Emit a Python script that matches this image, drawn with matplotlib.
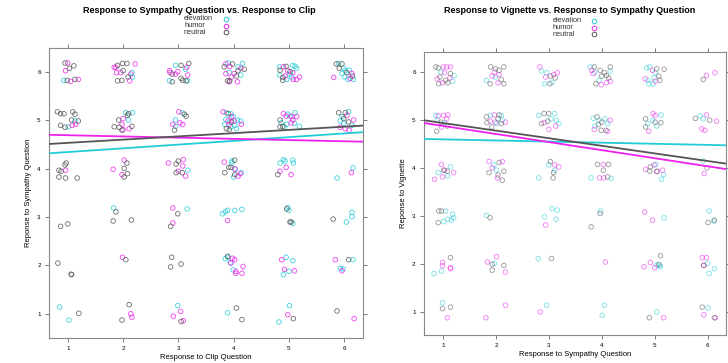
import numpy as np
import matplotlib
matplotlib.use("Agg")
import matplotlib.pyplot as plt

plt.rcParams['font.family'] = ['Liberation Sans', 'DejaVu Sans']

groups = ['elevation', 'humor', 'neutral']
colors = {'elevation': '#22CCD6', 'humor': '#EE22EE', 'neutral': '#555555'}

# panel 1: x = response to clip, y = response to sympathy question (jittered)
clip_elevation = [
    (0.93, 5.83), (2.16, 5.99), (2.17, 5.90), (2.95, 6.14), (3.13, 6.06), (2.84, 5.82), (3.17, 5.82),
    (3.90, 6.19), (4.08, 6.11), (4.16, 6.18), (3.92, 5.99), (4.13, 5.94), (4.83, 6.11), (5.07, 6.14),
    (5.11, 6.12), (5.14, 6.08), (4.83, 5.94), (5.05, 5.90), (4.96, 5.85), (5.02, 5.96), (5.90, 6.18),
    (5.99, 6.08), (6.02, 6.03), (6.09, 6.04), (6.01, 5.90), (6.07, 5.85), (6.17, 5.85), (5.96, 5.97),
    (1.13, 4.99), (1.01, 4.87), (2.05, 5.16), (2.17, 5.16), (2.10, 5.01), (3.07, 5.16), (2.95, 5.01),
    (2.95, 4.88), (3.87, 5.16), (3.95, 5.14), (3.86, 5.02), (3.99, 5.08), (4.07, 5.01), (4.13, 4.99),
    (3.84, 4.92), (4.02, 4.90), (4.05, 4.83), (3.95, 4.87), (4.98, 5.13), (5.11, 5.16), (5.02, 5.09),
    (4.86, 4.95), (4.96, 4.92), (5.10, 4.94), (4.92, 4.86), (5.19, 4.88), (6.08, 5.18), (5.96, 5.08),
    (5.93, 4.99), (5.99, 4.94), (6.14, 4.90),
    (3.17, 3.97), (3.97, 4.16), (4.03, 3.99), (4.00, 3.83), (4.14, 3.92), (3.97, 4.12), (4.84, 4.12),
    (4.90, 4.19), (4.93, 4.16), (5.07, 4.18), (5.08, 4.12), (6.16, 4.02), (5.87, 3.81),
    (1.83, 3.19), (3.16, 3.17), (3.80, 3.07), (3.85, 3.11), (3.89, 3.14), (4.02, 3.14), (4.15, 3.16),
    (4.98, 3.20), (5.00, 3.14), (5.07, 2.87), (6.04, 2.90), (6.14, 3.01), (6.14, 3.10),
    (3.85, 2.14), (3.90, 2.17), (3.94, 2.06), (3.99, 1.91), (5.07, 2.10), (4.95, 2.17), (5.00, 1.88),
    (4.90, 1.81), (5.93, 1.94), (5.98, 1.93), (6.16, 2.12),
    (0.85, 1.14), (1.02, 0.87), (2.99, 1.17), (3.89, 1.02), (5.01, 1.17), (4.82, 0.83),
]
clip_humor = [
    (1.00, 6.19), (0.96, 6.03), (1.05, 5.81), (1.19, 5.85), (1.84, 6.10), (1.87, 6.10), (2.22, 6.17),
    (1.88, 5.99), (1.96, 5.99), (2.14, 5.96), (2.12, 5.82), (3.15, 6.10), (2.99, 6.01), (2.85, 5.99),
    (2.95, 5.96), (3.17, 5.94), (2.84, 6.03), (3.86, 6.17), (3.93, 6.12), (4.13, 6.08), (4.01, 5.97),
    (3.86, 5.97), (3.96, 5.90), (3.92, 5.80), (4.07, 5.80), (4.90, 6.11), (4.98, 6.03), (5.07, 5.99),
    (4.93, 5.92), (5.08, 5.85), (5.14, 5.85), (5.19, 5.90), (6.14, 5.97), (6.11, 5.87), (5.81, 5.89),
    (1.14, 4.92), (1.08, 4.90), (2.00, 5.04), (1.98, 4.92), (2.00, 4.81), (2.11, 4.83), (3.01, 5.18),
    (3.03, 4.95), (3.08, 4.92), (2.90, 4.92), (3.81, 5.18), (3.96, 5.08), (3.90, 4.99), (4.01, 4.99),
    (3.92, 4.92), (4.14, 4.92), (4.90, 5.14), (4.95, 5.09), (5.05, 5.08), (5.14, 5.08), (5.04, 4.95),
    (5.07, 5.01), (6.05, 5.11), (6.17, 5.01), (5.93, 4.86), (6.02, 4.83), (6.09, 4.80),
    (0.96, 3.97), (1.82, 3.99), (2.02, 4.18), (1.98, 3.88), (2.82, 4.12), (3.09, 4.19), (3.00, 3.95),
    (3.08, 4.06), (3.13, 3.85), (3.83, 4.14), (4.02, 4.00), (4.08, 3.85), (4.12, 3.90), (4.84, 3.95),
    (4.95, 4.03), (5.04, 3.88), (6.13, 3.92),
    (2.90, 3.19), (2.90, 2.88), (3.89, 2.93),
    (1.99, 2.17), (3.98, 2.15), (4.02, 2.12), (3.95, 2.05), (4.04, 1.88), (4.04, 1.84), (4.15, 1.84),
    (4.17, 1.98), (4.87, 2.12), (4.92, 1.92), (5.10, 1.89), (5.84, 2.12), (5.96, 1.89),
    (2.14, 1.00), (2.16, 0.93), (3.04, 1.05), (2.91, 0.95), (3.09, 0.86), (4.98, 0.98), (6.18, 0.90),
]
clip_neutral = [
    (0.95, 6.19), (1.03, 6.08), (1.11, 6.13), (0.99, 5.83), (1.13, 5.85), (1.90, 6.14), (1.99, 6.18),
    (2.07, 6.18), (2.00, 6.03), (2.09, 5.90), (1.90, 5.82), (1.98, 5.83), (3.05, 6.14), (3.19, 6.18),
    (2.89, 5.96), (3.05, 5.87), (3.08, 5.83), (2.89, 5.80), (3.14, 5.82), (3.83, 6.11), (3.98, 6.17),
    (4.19, 6.06), (4.08, 6.03), (4.05, 5.92), (3.89, 5.82), (3.93, 5.82), (4.95, 6.12), (4.84, 6.04),
    (5.02, 6.01), (4.89, 5.89), (4.89, 5.83), (5.86, 6.17), (5.96, 6.17), (5.91, 6.08), (6.05, 5.99),
    (6.15, 5.92),
    (0.81, 5.18), (0.87, 5.14), (0.93, 5.14), (1.09, 5.18), (1.13, 5.13), (1.07, 5.01), (1.19, 4.99),
    (0.87, 4.90), (0.95, 4.86), (2.10, 5.14), (2.08, 5.11), (1.92, 5.01), (1.84, 4.87), (1.93, 4.86),
    (1.98, 4.80), (2.16, 4.88), (3.11, 5.13), (3.14, 5.09), (2.93, 4.80), (3.90, 5.14), (3.96, 4.97),
    (3.87, 4.83), (3.92, 4.81), (4.84, 5.01), (4.89, 4.88), (4.84, 4.87), (5.90, 5.16), (6.02, 5.16),
    (5.99, 5.04), (6.08, 4.97),
    (0.84, 3.97), (0.88, 3.95), (0.95, 4.08), (0.97, 4.12), (0.84, 3.83), (0.96, 3.81), (1.17, 3.81),
    (2.07, 4.12), (2.02, 4.01), (2.08, 3.90), (2.02, 3.83), (2.96, 4.10), (3.00, 4.16), (2.96, 3.92),
    (3.07, 3.92), (3.91, 4.03), (3.95, 4.03), (4.02, 4.18), (3.84, 3.92), (4.02, 3.88), (4.80, 3.88),
    (0.87, 2.81), (1.00, 2.86), (1.87, 3.11), (1.82, 2.92), (2.15, 2.94), (2.99, 3.07), (2.86, 2.81),
    (4.96, 3.17), (5.02, 2.90), (5.04, 2.90), (5.80, 2.96),
    (0.82, 2.05), (1.06, 1.82), (1.07, 1.81), (2.05, 2.12), (2.88, 2.17), (2.86, 1.97), (3.05, 2.03),
    (3.89, 2.19), (6.08, 2.12),
    (1.20, 1.01), (2.11, 1.19), (1.98, 0.87), (3.05, 0.84), (4.05, 1.12), (4.15, 0.88), (5.08, 0.90),
    (5.87, 1.06),
]

# panel 2: x = response to sympathy question, y = response to vignette (jittered)
symp_elevation = [
    (0.96, 5.99), (1.18, 5.80), (1.21, 5.92), (1.82, 5.82), (1.99, 5.89), (2.86, 6.01), (2.96, 5.98),
    (3.06, 5.78), (2.92, 5.75), (3.78, 6.10), (3.87, 5.99), (4.16, 6.01), (3.95, 5.82), (4.85, 6.08),
    (4.91, 6.10), (5.01, 5.98), (4.87, 5.82), (4.99, 5.87), (4.89, 5.75), (4.97, 5.75),
    (0.86, 5.09), (0.89, 4.99), (1.03, 4.94), (1.90, 5.09), (2.10, 5.09), (2.12, 4.99), (2.01, 4.92),
    (2.81, 5.09), (3.11, 5.13), (3.04, 5.02), (3.14, 4.99), (3.19, 4.92), (3.84, 5.03), (3.95, 4.99),
    (3.87, 4.87), (4.06, 5.02), (4.11, 4.92), (5.12, 5.10), (4.96, 4.99), (4.87, 4.92), (5.04, 4.87),
    (5.86, 5.08), (5.92, 5.02),
    (0.91, 3.90), (1.14, 4.02), (1.09, 3.83), (2.01, 3.95), (1.96, 4.06), (3.00, 4.06), (3.11, 3.95),
    (2.81, 3.79), (3.80, 3.79), (4.18, 3.78), (5.02, 4.07), (5.17, 3.86), (5.13, 3.76), (5.92, 4.14),
    (1.05, 3.10), (1.18, 3.03), (1.01, 2.88), (1.09, 2.93), (1.16, 2.91), (1.20, 2.96), (1.82, 3.01),
    (3.06, 3.15), (3.16, 3.12), (2.92, 2.98), (3.14, 2.93), (3.98, 3.10), (5.18, 2.96), (6.03, 3.10),
    (6.12, 2.89),
    (0.97, 1.85), (0.83, 1.80), (1.97, 2.01), (2.80, 2.11), (5.04, 1.97), (5.11, 1.94), (5.10, 1.97),
    (6.00, 2.01), (6.13, 1.90), (6.03, 1.80),
    (0.99, 1.19), (2.96, 1.14), (4.05, 1.14), (4.01, 0.93), (5.04, 1.00), (6.01, 1.08),
]
symp_humor = [
    (1.01, 6.10), (1.07, 6.10), (1.14, 6.10), (0.89, 5.85), (0.99, 5.77), (1.13, 5.87), (1.03, 5.98),
    (1.93, 5.91), (2.06, 5.94), (2.04, 5.77), (1.97, 5.99), (2.83, 6.10), (2.94, 5.89), (3.09, 5.94),
    (3.16, 5.98), (3.81, 6.03), (3.84, 5.96), (3.99, 5.73), (4.09, 5.77), (4.16, 5.80), (4.96, 6.03),
    (4.82, 5.85), (5.01, 5.80), (5.98, 5.92), (6.14, 5.98),
    (0.91, 5.08), (1.01, 5.09), (1.09, 5.10), (1.07, 5.02), (0.97, 4.85), (1.97, 5.10), (1.89, 4.97),
    (1.99, 4.95), (2.18, 4.95), (2.91, 4.94), (3.13, 4.87), (3.00, 4.80), (3.86, 4.80), (4.11, 4.76),
    (4.16, 4.99), (4.97, 5.13), (5.01, 5.09), (4.89, 4.76), (5.98, 5.10), (6.17, 4.97), (5.89, 4.81),
    (5.95, 4.78),
    (0.97, 4.07), (0.84, 3.76), (1.03, 3.95), (1.20, 3.90), (0.99, 3.81), (1.87, 4.13), (2.12, 4.13),
    (1.93, 4.00), (2.03, 3.79), (3.11, 4.06), (3.19, 4.02), (4.03, 4.07), (3.96, 3.79), (4.04, 3.79),
    (4.83, 3.97), (4.99, 4.06), (5.05, 3.93), (5.15, 3.95), (5.94, 3.88),
    (2.94, 2.81), (4.81, 3.08), (4.96, 2.91),
    (0.99, 2.03), (0.99, 1.96), (1.14, 1.90), (1.14, 1.92), (2.01, 2.15), (1.84, 2.04), (2.18, 1.83),
    (4.07, 2.04), (4.92, 2.03), (4.80, 1.94), (5.00, 1.92), (5.90, 2.13), (5.98, 2.13), (5.93, 1.97),
    (1.08, 0.88), (2.18, 1.14), (1.81, 0.88), (2.84, 1.00), (5.17, 0.88), (5.93, 0.94), (6.15, 0.88),
]
symp_neutral = [
    (0.86, 6.10), (0.91, 6.08), (0.94, 5.89), (1.05, 5.82), (1.09, 5.77), (1.14, 5.96), (0.92, 5.75),
    (1.90, 6.10), (1.99, 6.06), (2.15, 6.10), (2.06, 6.03), (2.10, 5.84), (2.15, 5.75), (1.89, 5.75),
    (3.03, 5.91), (3.12, 5.87), (3.02, 5.75), (3.86, 6.10), (3.97, 6.03), (4.05, 5.98), (4.09, 5.92),
    (4.00, 5.91), (3.89, 5.75), (4.16, 6.10), (4.13, 5.87), (5.04, 6.06), (5.10, 5.82), (5.08, 5.91),
    (5.18, 6.05), (5.92, 5.84),
    (0.96, 4.95), (0.88, 4.76), (1.08, 4.87), (1.82, 5.06), (2.06, 5.10), (1.83, 4.94), (2.04, 5.02),
    (2.10, 4.92), (1.92, 4.85), (2.91, 5.13), (3.00, 5.13), (2.98, 4.97), (2.86, 4.92), (3.91, 5.06),
    (4.00, 4.95), (3.99, 4.78), (4.08, 4.78), (3.94, 4.90), (4.83, 5.02), (5.01, 4.95), (5.12, 4.94),
    (4.83, 4.85), (5.77, 5.03), (6.04, 4.99),
    (1.01, 3.95), (1.08, 3.93), (2.06, 4.11), (2.15, 3.93), (1.87, 3.90), (2.04, 3.85), (2.12, 3.74),
    (3.03, 4.13), (3.09, 3.90), (3.08, 3.79), (3.92, 4.07), (4.13, 4.07), (4.03, 3.95), (4.11, 3.81),
    (4.92, 4.02), (5.04, 3.92), (4.91, 3.93), (5.99, 4.00),
    (0.92, 3.10), (0.97, 3.10), (0.91, 2.86), (1.89, 2.96), (3.97, 3.05), (3.80, 2.77), (6.01, 2.86),
    (6.13, 2.91),
    (1.14, 2.13), (1.93, 1.99), (2.15, 1.97), (1.93, 1.87), (3.05, 2.11), (5.11, 2.17), (5.08, 1.99),
    (5.93, 1.97),
    (0.99, 1.07), (1.14, 1.10), (4.90, 0.88), (5.90, 1.10), (6.13, 0.88),
]

# fitted lines: (intercept, slope)
clip_fits = {'elevation': (4.27, 0.077), 'humor': (4.72, -0.025), 'neutral': (4.47, 0.067)}
symp_fits = {'elevation': (4.615, -0.023), 'humor': (5.04, -0.168), 'neutral': (5.09, -0.158)}

ticks = [1, 2, 3, 4, 5, 6]

fig = plt.figure(figsize=(7.28, 3.63), dpi=100)


def panel(rect, data, fits, xlim, ylim, title, xlabel, ylabel, alpha, title_x, key):
    ax = fig.add_axes(rect)
    for g in groups:
        pts = np.array(data[g])
        ax.scatter(pts[:, 0], pts[:, 1], s=11, facecolors='none', edgecolors=colors[g],
                   linewidths=0.6, alpha=alpha, zorder=2)
    xx = np.array(xlim)
    for g in groups:
        b0, b1 = fits[g]
        ax.plot(xx, b0 + b1 * xx, color=colors[g], lw=1.3, zorder=3)
    ax.set_xlim(xlim)
    ax.set_ylim(ylim)
    ax.set_xticks(ticks)
    ax.set_yticks(ticks)
    ax.tick_params(axis='both', which='both', direction='out', length=3, width=0.6, color='#666666',
                   labelsize=4.5, pad=3, top=True, right=True)
    for s in ax.spines.values():
        s.set_color('#888888')
        s.set_linewidth(0.8)
    ax.set_xlabel(xlabel, fontsize=5.5, labelpad=2)
    ax.set_ylabel(ylabel, fontsize=5.5, labelpad=4)
    fig.text(title_x, 0.972, title, ha='center', va='center', fontsize=6.5, fontweight='bold')

    # key above the panel: labels left-aligned, symbols to the right
    tx, mx, y0, dy = key
    for i, g in enumerate(groups):
        yy = y0 - i * dy
        ax.text(tx, yy, g, transform=ax.transAxes, ha='left', va='center', fontsize=5.3,
                color='#333333')
        ax.plot([mx], [yy], transform=ax.transAxes, ls='none', marker='o', mfc='none',
                mec=colors[g], ms=3.3, mew=0.7, clip_on=False)
    return ax


panel([0.0673, 0.0689, 0.4313, 0.7989],
      {'elevation': clip_elevation, 'humor': clip_humor, 'neutral': clip_neutral},
      clip_fits, (0.66, 6.34), (0.5, 6.5),
      'Response to Sympathy Question vs. Response to Clip',
      'Response to Clip Question', 'Reponse to Sympathy Question', 0.85, 0.274,
      (0.43, 0.564, 1.100, 0.023))

panel([0.5824, 0.0771, 0.4149, 0.7796],
      {'elevation': symp_elevation, 'humor': symp_humor, 'neutral': symp_neutral},
      symp_fits, (0.64, 6.35), (0.52, 6.41),
      'Response to Vignette vs. Response to Sympathy Question',
      'Response to Sympathy Question', 'Reponse to Vignette', 0.6, 0.782,
      (0.427, 0.563, 1.110, 0.0235))

plt.savefig('out.png', dpi=100)
